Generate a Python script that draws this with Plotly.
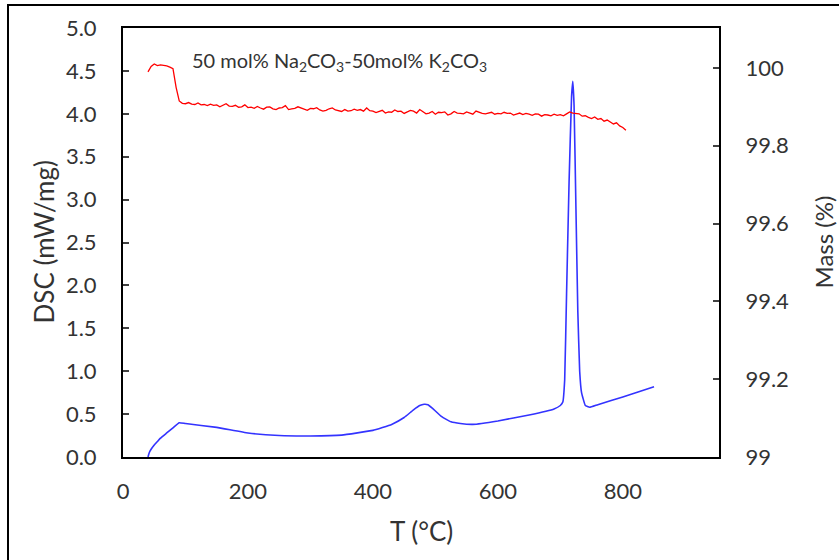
import plotly.graph_objects as go

# DSC (left axis)
T_dsc = [40, 42, 45, 50, 55, 60, 70, 80, 90, 100, 150, 200, 250, 300, 350, 400,
         430, 450, 465, 475, 482, 488, 495, 510, 525, 540, 560, 600, 650, 690,
         700, 704, 707, 710, 714, 718, 720, 722, 725, 728, 731, 734, 740, 747,
         760, 800, 850]
dsc = [0.0, 0.05, 0.09, 0.14, 0.18, 0.22, 0.28, 0.34, 0.40, 0.39, 0.345, 0.28,
       0.25, 0.245, 0.255, 0.31, 0.38, 0.46, 0.55, 0.60, 0.615, 0.61, 0.57, 0.47,
       0.41, 0.39, 0.38, 0.42, 0.49, 0.56, 0.60, 0.64, 0.90, 1.90, 3.20, 4.20,
       4.38, 4.10, 2.90, 1.70, 1.00, 0.75, 0.60, 0.58, 0.61, 0.70, 0.82]

# Mass (right axis)
T_mass = [40, 45, 50, 55, 60, 65, 70, 75, 80, 85, 90, 95, 100, 105, 110, 115,
          120, 125, 130, 135, 140, 145, 150, 155, 160, 165, 170, 175, 180, 185,
          190, 195, 200, 205, 210, 215, 220, 225, 230, 235, 240, 245, 250, 255,
          260, 265, 270, 275, 280, 285, 290, 295, 300, 305, 310, 315, 320, 325,
          330, 335, 340, 345, 350, 355, 360, 365, 370, 375, 380, 385, 390, 395,
          400, 405, 410, 415, 420, 425, 430, 435, 440, 445, 450, 455, 460, 465,
          470, 475, 480, 485, 490, 495, 500, 505, 510, 515, 520, 525, 530, 535,
          540, 545, 550, 555, 560, 565, 570, 575, 580, 585, 590, 595, 600, 605,
          610, 615, 620, 625, 630, 635, 640, 645, 650, 655, 660, 665, 670, 675,
          680, 685, 690, 695, 700, 705, 710, 715, 720, 725, 730, 735, 740, 745,
          750, 755, 760, 765, 770, 775, 780, 785, 790, 795, 800, 805]
mass = [99.990, 100.004, 100.010, 100.006, 100.008, 100.007, 100.005, 100.002,
        99.998, 99.950, 99.915, 99.909, 99.908, 99.911, 99.907, 99.906,
        99.910, 99.905, 99.906, 99.903, 99.907, 99.904, 99.905, 99.900,
        99.903, 99.908, 99.902, 99.901, 99.904, 99.899, 99.900, 99.905,
        99.898, 99.899, 99.896, 99.901, 99.897, 99.894, 99.899, 99.900,
        99.895, 99.893, 99.897, 99.898, 99.903, 99.893, 99.895, 99.896,
        99.900, 99.897, 99.893, 99.891, 99.896, 99.895, 99.898, 99.892,
        99.889, 99.891, 99.895, 99.897, 99.892, 99.890, 99.888, 99.893,
        99.889, 99.890, 99.894, 99.891, 99.893, 99.889, 99.897, 99.890,
        99.889, 99.885, 99.888, 99.891, 99.884, 99.887, 99.886, 99.892,
        99.888, 99.889, 99.883, 99.887, 99.891, 99.889, 99.884, 99.893,
        99.887, 99.882, 99.884, 99.888, 99.881, 99.886, 99.885, 99.887,
        99.879, 99.882, 99.888, 99.884, 99.883, 99.882, 99.887, 99.884,
        99.881, 99.889, 99.885, 99.883, 99.882, 99.884, 99.886, 99.881,
        99.883, 99.882, 99.886, 99.883, 99.884, 99.879, 99.882, 99.884,
        99.880, 99.883, 99.881, 99.878, 99.882, 99.881, 99.876, 99.880,
        99.879, 99.877, 99.881, 99.878, 99.880, 99.877, 99.882, 99.887,
        99.884, 99.883, 99.882, 99.876, 99.877, 99.873, 99.870, 99.874,
        99.868, 99.870, 99.863, 99.866, 99.861, 99.856, 99.859, 99.851,
        99.847, 99.840]

x_ticks = [0, 200, 400, 600, 800]
y_ticks = [0.0, 0.5, 1.0, 1.5, 2.0, 2.5, 3.0, 3.5, 4.0, 4.5, 5.0]
y2_ticks = [99, 99.2, 99.4, 99.6, 99.8, 100]
y2_labels = ["99", "99.2", "99.4", "99.6", "99.8", "100"]

FONT = "Lato"
TXT = "#333333"

fig = go.Figure()
fig.add_trace(go.Scatter(x=T_dsc, y=dsc, mode="lines",
                         line=dict(color="#3333ff", width=1.6, shape="spline", smoothing=0.3),
                         showlegend=False, yaxis="y"))
fig.add_trace(go.Scatter(x=T_mass, y=mass, mode="lines", line=dict(color="#ff0000", width=1.3),
                         showlegend=False, yaxis="y2"))

fig.update_layout(
    width=839, height=560,
    margin=dict(l=123, r=120, t=28, b=103),
    paper_bgcolor="white", plot_bgcolor="white",
    font=dict(family=FONT, size=22, color=TXT),
    xaxis=dict(range=[0, 954], tickvals=x_ticks, ticks="", showgrid=False, zeroline=False,
               showline=True, linecolor="black", linewidth=2, mirror=True,
               ticklabelstandoff=14),
    yaxis=dict(range=[0, 5], tickvals=y_ticks, tickformat=".1f", ticks="inside", ticklen=6,
               tickwidth=1.5, tickcolor="#404040", showgrid=False, zeroline=False,
               showline=True, linecolor="black", linewidth=2, ticklabelstandoff=20),
    yaxis2=dict(range=[99, 100.1026], tickvals=y2_ticks, ticktext=y2_labels, overlaying="y",
                side="right", ticks="inside", ticklen=6, tickwidth=1.5, tickcolor="#404040",
                showgrid=False, zeroline=False, showline=True, linecolor="black", linewidth=2,
                ticklabelstandoff=20),
    annotations=[
        dict(text="50 mol% Na<sub>2</sub>CO<sub>3</sub>-50mol% K<sub>2</sub>CO<sub>3</sub>",
             x=(190 - 123) / 596, y=(457 - 62) / 429, xref="paper", yref="paper",
             xanchor="left", yanchor="middle", showarrow=False, font=dict(size=20, color=TXT)),
        dict(text="DSC (mW/mg)", x=(43 - 123) / 596, y=0.5, xref="paper", yref="paper",
             textangle=-90, showarrow=False, xanchor="center", yanchor="middle",
             font=dict(size=26, color=TXT)),
        dict(text="Mass (%)", x=(823 - 123) / 596, y=0.5, xref="paper", yref="paper",
             textangle=-90, showarrow=False, xanchor="center", yanchor="middle",
             font=dict(size=24, color=TXT)),
        dict(text="T (°C)", x=0.5, y=-(531 - 457) / 429, xref="paper", yref="paper",
             showarrow=False, xanchor="center", yanchor="middle", font=dict(size=26, color=TXT)),
    ],
    shapes=[dict(type="rect", xref="paper", yref="paper",
                 x0=(8 - 123) / 596, x1=(850 - 123) / 596,
                 y0=(457 - 570) / 429, y1=(457 - 5) / 429,
                 line=dict(color="black", width=2), fillcolor="rgba(0,0,0,0)", layer="below")],
)

fig.write_html("out.html", config={"displayModeBar": False},
               post_script="document.body.style.margin='0';")
